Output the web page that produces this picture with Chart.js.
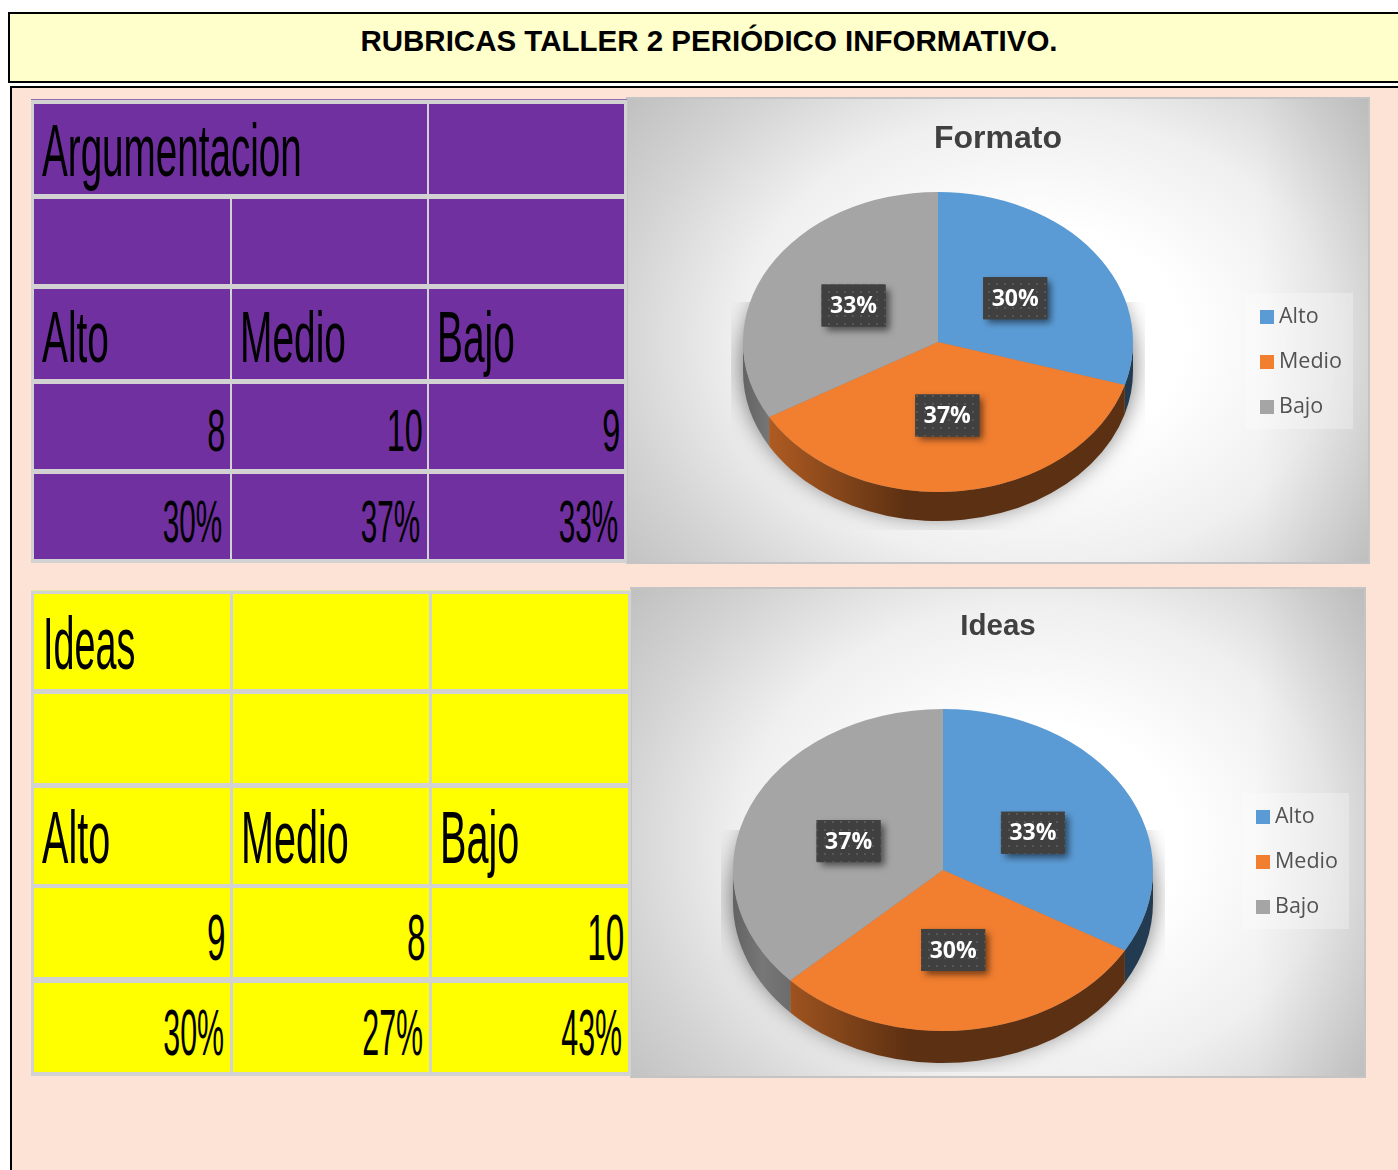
<!DOCTYPE html>
<html>
<head>
<meta charset="utf-8">
<title>Rubricas taller 2</title>
<script src="https://cdn.jsdelivr.net/npm/chart.js@4"></script>
<style>
  html, body { margin: 0; padding: 0; background: #fff; }
  body { position: relative; width: 1398px; height: 1170px; overflow: hidden; font-family: "Liberation Sans", Arial, sans-serif; }
  .abs { position: absolute; box-sizing: border-box; }
  #titleBox { left: 8px; top: 12px; width: 1420px; height: 71px; background: #ffffcc; border: 2px solid #000; }
  #titleText { left: 0; top: 24px; width: 1418px; font-weight: bold; font-size: 29.5px; line-height: 34px; color: #000; white-space: nowrap; }
  #titleText span { position: absolute; left: 709px; transform: translateX(-50%); }
  #sheet { left: 10px; top: 86px; width: 1420px; height: 1120px; background: #fce3d6; border: 2px solid #000; }
  .tableBg { background: #d2d2d2; }
  .cell { position: absolute; }
  .cellText { position: absolute; color: #000; white-space: nowrap; }
  .panel { position: absolute; box-shadow: inset 0 0 0 2px #c4c4c4;
    background:
      linear-gradient(to left, rgba(0,0,0,0.08), rgba(0,0,0,0) 15%),
      radial-gradient(ellipse 62% 75% at 55% 52%, #fff 32%, #efefef 65%, #d4d4d4 90%, #c0c0c0 112%); }
  .panel canvas { position: absolute; left: 0; top: 0; }
</style>
</head>
<body>
<div class="abs" id="titleBox"></div>
<div class="abs" id="sheet"></div>
<div class="abs" id="titleText"><span>RUBRICAS TALLER 2 PERIÓDICO INFORMATIVO.</span></div>

<div class="panel" style="left:626px;top:97px;width:744px;height:467px">
  <canvas id="chartFormato" width="744" height="467"></canvas>
</div>
<div class="panel" style="left:630px;top:587px;width:736px;height:491px">
  <canvas id="chartIdeas" width="736" height="491"></canvas>
</div>

<script>
// ===== DATA =====
const categories = ['Alto', 'Medio', 'Bajo'];
const formatoValues = [8, 10, 9];
const formatoPercents = ['30%', '37%', '33%'];
const ideasValues = [9, 8, 10];
const ideasPercents = ['30%', '27%', '43%'];
const pieColors = ['#5b9bd5', '#f27e2f', '#a5a5a5'];

// ===== TABLES =====
function addText(text, st) {
  const s = document.createElement('span');
  s.className = 'cellText';
  s.textContent = text;
  s.style.fontSize = st.font + 'px';
  s.style.lineHeight = st.font + 'px';
  s.style.top = (st.base - 0.8465 * st.font) + 'px';
  if (st.right !== undefined) {
    s.style.right = (1398 - st.right) + 'px';
    s.style.transformOrigin = 'right center';
  } else {
    s.style.left = st.left + 'px';
    s.style.transformOrigin = 'left center';
  }
  s.style.transform = `scaleX(${st.scale})`;
  document.body.appendChild(s);
}

function addCell(x0, x1, y0, y1, color) {
  const c = document.createElement('div');
  c.className = 'cell';
  c.style.cssText = `left:${x0}px;width:${x1 - x0}px;top:${y0}px;height:${y1 - y0}px;background:${color}`;
  document.body.appendChild(c);
}

function buildTable(t) {
  const bg = document.createElement('div');
  bg.className = 'abs tableBg';
  bg.style.cssText = `left:${t.outer[0]}px;top:${t.outer[1]}px;width:${t.outer[2] - t.outer[0]}px;height:${t.outer[3] - t.outer[1]}px;border-top:1px solid ${t.edge}`;
  document.body.appendChild(bg);
  t.rows.forEach((r, i) => {
    t.cols.forEach((c, j) => {
      if (t.merged && i === 0 && j === 0) { addCell(c[0], t.cols[1][1], r[0], r[1], t.color); return; }
      if (t.merged && i === 0 && j === 1) return;
      addCell(c[0], c[1], r[0], r[1], t.color);
    });
  });
}

buildTable({
  outer: [31, 99, 627, 563], edge: '#8f6db5', color: '#7030a0', merged: true,
  cols: [[34, 229.5], [231.5, 426.5], [429, 624]],
  rows: [[104, 194], [199, 284], [289, 379], [384, 469], [474, 559]]
});
buildTable({
  outer: [31, 590, 631, 1076], edge: '#e8e89a', color: '#ffff00', merged: false,
  cols: [[34, 230], [233, 429], [432, 628]],
  rows: [[594, 689], [694, 783], [788, 884], [888, 977], [983, 1072]]
});

addText('Argumentacion', { font: 74, base: 177, left: 41.5, scale: 0.522 });
addText('Ideas', { font: 74, base: 670, left: 42.5, scale: 0.51 });
[41.5, 239.5, 436.5].forEach((x, i) => addText(categories[i], { font: 72, base: 361.5, left: x, scale: 0.54 }));
[41.5, 240.5, 439.5].forEach((x, i) => addText(categories[i], { font: 74, base: 864, left: x, scale: 0.535 }));
[225, 423, 620].forEach((x, i) => addText(String(formatoValues[i]), { font: 60, base: 452, right: x, scale: 0.54 }));
[222, 420, 618].forEach((x, i) => addText(formatoPercents[i], { font: 60, base: 543, right: x, scale: 0.495 }));
[225.5, 425.5, 624.5].forEach((x, i) => addText(String(ideasValues[i]), { font: 64, base: 960, right: x, scale: 0.52 }));
[224, 423, 622].forEach((x, i) => addText(ideasPercents[i], { font: 64, base: 1055, right: x, scale: 0.475 }));

// ===== 3D PIE LOOK =====
const shade = (hex, f) => {
  const n = parseInt(hex.slice(1), 16);
  return `rgb(${((n >> 16) & 255) * f},${((n >> 8) & 255) * f},${(n & 255) * f})`;
};

const dotCanvas = document.createElement('canvas');
dotCanvas.width = dotCanvas.height = 8;
const dotCtx = dotCanvas.getContext('2d');
dotCtx.fillStyle = '#404040';
dotCtx.fillRect(0, 0, 8, 8);
dotCtx.fillStyle = '#565656';
dotCtx.fillRect(2, 2, 2, 2);

const pie3d = {
  id: 'pie3d',
  beforeDatasetDraw(chart, args, o) {
    const ctx = chart.ctx;
    const arcs = chart.getDatasetMeta(0).data;
    const cx = o.cx, R = arcs[0].outerRadius, ry = R * o.k;
    // soft shadow under the disc, the source ellipse sits off canvas so only its blur lands here
    ctx.save();
    ctx.beginPath();
    ctx.rect(cx - R - 12, o.cy - 40, 2 * R + 24, ry + 40 + o.depth + 9);
    ctx.clip();
    ctx.shadowColor = 'rgba(0,0,0,0.5)';
    ctx.shadowBlur = 22;
    ctx.shadowOffsetX = 3000;
    ctx.fillStyle = '#000';
    ctx.beginPath();
    ctx.ellipse(cx - 3000, o.cy + o.depth - 6, R + 2, ry + 2, 0, 0, Math.PI * 2);
    ctx.fill();
    ctx.restore();
    // side wall, only the front half of each slice shows
    arcs.forEach((a, i) => {
      const color = chart.data.datasets[0].backgroundColor[i];
      const g = ctx.createLinearGradient(cx - R, 0, cx + R, 0);
      g.addColorStop(0, shade(color, 0.6));
      g.addColorStop(0.07, shade(color, 0.72));
      g.addColorStop(0.42, shade(color, 0.38));
      g.addColorStop(1, shade(color, 0.38));
      [0, Math.PI * 2].forEach(turn => {
        const a0 = Math.max(a.startAngle + turn, 0), a1 = Math.min(a.endAngle + turn, Math.PI);
        if (a1 <= a0) return;
        ctx.beginPath();
        ctx.ellipse(cx, o.cy, R, ry, 0, a0, a1);
        ctx.ellipse(cx, o.cy + o.depth, R, ry, 0, a1, a0, true);
        ctx.closePath();
        ctx.fillStyle = g;
        ctx.fill();
      });
    });
    // squash the disc itself
    ctx.save();
    ctx.translate(cx, o.cy);
    ctx.scale(1, o.k);
    ctx.translate(-arcs[0].x, -arcs[0].y);
  },
  afterDatasetDraw(chart) {
    chart.ctx.restore();
  },
  afterDatasetsDraw(chart, args, o) {
    const ctx = chart.ctx;
    const arcs = chart.getDatasetMeta(0).data;
    const values = chart.data.datasets[0].data;
    const total = values.reduce((s, v) => s + v, 0);
    arcs.forEach((a, i) => {
      const p = a.tooltipPosition();
      const x = o.cx + (p.x - a.x) + o.nudge[i][0], y = o.cy + (p.y - a.y) * o.k + o.nudge[i][1];
      ctx.save();
      ctx.shadowColor = 'rgba(0,0,0,0.55)';
      ctx.shadowBlur = 7;
      ctx.shadowOffsetX = 4;
      ctx.shadowOffsetY = 4;
      ctx.fillStyle = '#404040';
      ctx.fillRect(x - 32, y - 21, 64, 42);
      ctx.restore();
      ctx.fillStyle = ctx.createPattern(dotCanvas, 'repeat');
      ctx.fillRect(x - 32, y - 21, 64, 42);
      ctx.fillStyle = '#fff';
      ctx.font = 'bold 23px "Open Sans"';
      ctx.textAlign = 'center';
      ctx.textBaseline = 'middle';
      ctx.fillText(Math.round(values[i] / total * 100) + '%', x, y + 1);
    });
    // legend block
    const l = o.legend;
    ctx.fillStyle = 'rgba(255,255,255,0.28)';
    ctx.fillRect(l.x, l.y, l.w, l.h);
    chart.data.labels.forEach((label, i) => {
      const y = l.y + 24 + i * 45;
      ctx.fillStyle = chart.data.datasets[0].backgroundColor[i];
      ctx.fillRect(l.x + l.inset, y - 7, 14, 14);
      ctx.fillStyle = '#525252';
      ctx.font = '21.5px "Open Sans"';
      ctx.textAlign = 'left';
      ctx.textBaseline = 'middle';
      ctx.fillText(label, l.x + l.inset + 19, y);
    });
  }
};

// ===== CHARTS =====
function makePie(id, titleText, titleSize, titleTop, values, radius, o) {
  return new Chart(document.getElementById(id), {
    type: 'pie',
    data: {
      labels: categories,
      datasets: [{ data: values, backgroundColor: pieColors, borderWidth: 0, hoverOffset: 0, radius: radius, clip: false }]
    },
    options: {
      responsive: false,
      animation: false,
      events: [],
      plugins: {
        legend: { display: false },
        tooltip: { enabled: false },
        title: {
          display: true,
          text: titleText,
          color: '#404040',
          font: { family: '"Liberation Sans"', size: titleSize, weight: 'bold' },
          padding: { top: titleTop, bottom: 0 }
        },
        pie3d: o
      }
    },
    plugins: [pie3d]
  });
}

makePie('chartFormato', 'Formato', 32, 23, formatoValues, 195, {
  cx: 312, cy: 245, k: 150 / 195, depth: 29,
  nudge: [[-1, 1], [-2, -1], [0, 1]],
  legend: { x: 620, y: 196, w: 107, h: 136, inset: 14 }
});
makePie('chartIdeas', 'Ideas', 29.5, 22, ideasValues, 210, {
  cx: 313, cy: 283, k: 161 / 210, depth: 32,
  nudge: [[-1, 3], [-2, 0], [2, 3]],
  legend: { x: 613, y: 206, w: 106, h: 136, inset: 13 }
});
</script>
</body>
</html>
